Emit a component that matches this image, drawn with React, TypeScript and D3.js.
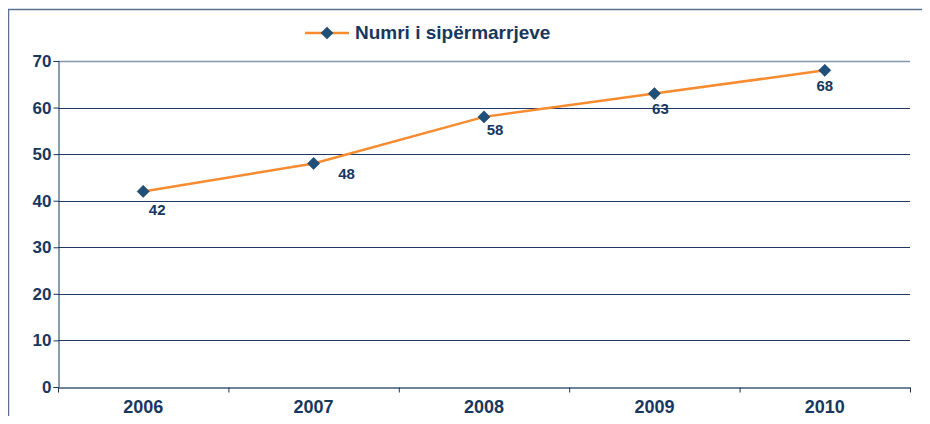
import React, { useEffect, useRef } from 'react';
import * as d3 from 'd3';

const years = ['2006', '2007', '2008', '2009', '2010'];
const values = [42, 48, 58, 63, 68];
const yTicks = [0, 10, 20, 30, 40, 50, 60, 70];
const seriesName = 'Numri i sipërmarrjeve';
// label offsets (dx, dy) like Excel placed them
const labelDx = [14, 33, 11, 6, 0];
const labelDy = [20, 12, 14, 16, 17];

const App = () => {
  const svgRef = useRef<SVGSVGElement>(null);

  useEffect(() => {
    const w = 930;
    const h = 424;
    const m = { left: 58, right: 20, top: 61, bottom: 37 };
    const navy = '#17375E';
    const font = '"Liberation Sans", Arial, sans-serif';

    const svg = d3.select(svgRef.current);
    svg.selectAll('*').remove();
    svg.attr('width', w).attr('height', h).style('display', 'block');

    // outer frame
    svg.append('rect')
      .attr('x', 8.5).attr('y', 9.5)
      .attr('width', w + 20).attr('height', h + 20)
      .attr('fill', 'none').attr('stroke', '#5B7390').attr('stroke-width', 1.5);

    const x = d3.scaleBand().domain(years).range([m.left, w - m.right]);
    const y = d3.scaleLinear().domain([0, 70]).range([h - m.bottom, m.top]);

    // gridlines
    svg.append('g')
      .selectAll('line')
      .data(yTicks.filter((t) => t > 0))
      .join('line')
      .attr('x1', m.left).attr('x2', w - m.right)
      .attr('y1', (d) => Math.round(y(d)) + 0.5).attr('y2', (d) => Math.round(y(d)) + 0.5)
      .attr('stroke', (d) => (d === 70 ? '#8497B0' : '#1F3864'))
      .attr('stroke-width', (d) => (d === 70 ? 1.5 : 1));

    // y axis
    const yAxis = svg.append('g')
      .attr('transform', `translate(${m.left + 0.5},0)`)
      .call(d3.axisLeft(y).tickValues(yTicks).tickSize(5).tickPadding(2));
    yAxis.select('.domain').attr('stroke', navy);
    yAxis.selectAll('.tick line').attr('stroke', navy);
    yAxis.selectAll('text')
      .attr('fill', navy).style('font-family', font)
      .style('font-size', '17px').style('font-weight', 'bold');

    // x axis
    const xAxis = svg.append('g')
      .attr('transform', `translate(0,${Math.round(y(0)) + 0.5})`)
      .call(d3.axisBottom(x).tickSize(0).tickPadding(13));
    xAxis.select('.domain').attr('stroke', '#3F5A7A').attr('stroke-width', 1.5);
    xAxis.selectAll('text')
      .attr('fill', navy).style('font-family', font)
      .style('font-size', '18px').style('font-weight', 'bold');
    // category boundary ticks
    const bounds = years.map((d) => x(d) as number).concat([w - m.right]);
    xAxis.selectAll('.btick')
      .data(bounds)
      .join('line')
      .attr('x1', (d) => d + 0.5).attr('x2', (d) => d + 0.5)
      .attr('y1', 0).attr('y2', 5)
      .attr('stroke', navy);

    const cx = (i: number) => (x(years[i]) as number) + x.bandwidth() / 2;

    // line
    const line = d3.line<number>()
      .x((_, i) => cx(i))
      .y((d) => y(d));
    svg.append('path')
      .datum(values)
      .attr('d', line)
      .attr('fill', 'none')
      .attr('stroke', '#F68B2F')
      .attr('stroke-width', 2.5);

    const diamond = d3.symbol().type(d3.symbolDiamond2).size(95);
    svg.append('g')
      .selectAll('path')
      .data(values)
      .join('path')
      .attr('d', diamond)
      .attr('transform', (d, i) => `translate(${cx(i)},${y(d)})`)
      .attr('fill', '#1F5079')
      .attr('stroke', '#17375E')
      .attr('stroke-width', 0.5);

    // data labels
    svg.append('g')
      .selectAll('text')
      .data(values)
      .join('text')
      .attr('x', (d, i) => cx(i) + labelDx[i])
      .attr('y', (d, i) => y(d) + labelDy[i])
      .attr('text-anchor', 'middle')
      .attr('dominant-baseline', 'middle')
      .attr('fill', navy)
      .style('font-family', font)
      .style('font-size', '15px')
      .style('font-weight', 'bold')
      .text((d) => d);

    // legend
    const lg = svg.append('g').attr('transform', 'translate(305,33)');
    lg.append('line').attr('x1', 0).attr('x2', 44).attr('y1', 0).attr('y2', 0)
      .attr('stroke', '#F68B2F').attr('stroke-width', 2.5);
    lg.append('path').attr('d', diamond).attr('transform', 'translate(22,0)')
      .attr('fill', '#1F5079').attr('stroke', '#17375E').attr('stroke-width', 0.5);
    lg.append('text')
      .attr('x', 50).attr('y', 1)
      .attr('dominant-baseline', 'middle')
      .attr('fill', navy)
      .style('font-family', font)
      .style('font-size', '19px')
      .style('font-weight', 'bold')
      .text(seriesName);
  }, []);

  return (
    <div style={{ margin: -8, width: 930, height: 424, overflow: 'hidden', background: '#fff' }}>
      <svg ref={svgRef}></svg>
    </div>
  );
};

export default App;
